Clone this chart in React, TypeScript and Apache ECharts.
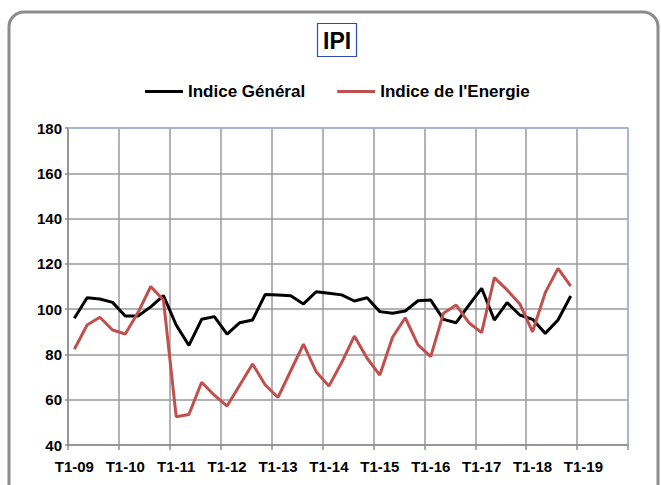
import React, { useEffect, useRef } from "react";
import * as echarts from "echarts";

const categories = [
  "T1-09", "T2-09", "T3-09", "T4-09",
  "T1-10", "T2-10", "T3-10", "T4-10",
  "T1-11", "T2-11", "T3-11", "T4-11",
  "T1-12", "T2-12", "T3-12", "T4-12",
  "T1-13", "T2-13", "T3-13", "T4-13",
  "T1-14", "T2-14", "T3-14", "T4-14",
  "T1-15", "T2-15", "T3-15", "T4-15",
  "T1-16", "T2-16", "T3-16", "T4-16",
  "T1-17", "T2-17", "T3-17", "T4-17",
  "T1-18", "T2-18", "T3-18", "T4-18",
  "T1-19", "T2-19", "T3-19", "T4-19",
];

const indiceGeneral = [
  96, 105, 104.5, 103, 97, 97, 101, 106,
  93, 84, 95.5, 96.7, 89, 94, 95.2, 106.5,
  106.2, 105.9, 102.3, 107.7, 107, 106.3, 103.6, 105,
  98.9, 98.2, 99.2, 103.7, 104, 95.5, 94, 101.8,
  109.2, 95.2, 102.9, 97.4, 95.5, 89.3, 95.2, 105.8,
];

const indiceEnergie = [
  82.3, 93, 96.4, 90.8, 89, 98.5, 110, 104,
  52.5, 53.5, 67.7, 62, 57.2, 66.5, 75.8, 66.5,
  61, 72.8, 84.5, 72.4, 66, 76.4, 88.1, 78.3,
  70.9, 87.6, 96.2, 84.2, 79, 98.2, 101.8, 94,
  89.6, 113.9, 108.5, 102.3, 90, 107.3, 118, 110.2,
];

const seriesNames = ["Indice Général", "Indice de l'Energie"];
const yTicks = { min: 40, max: 180, interval: 20 };

const FONT = "'Liberation Sans', Arial, sans-serif";

export default function App() {
  const ref = useRef<HTMLDivElement>(null);

  useEffect(() => {
    if (!ref.current) return;
    const chart = echarts.init(ref.current, undefined, { renderer: "svg" });
    const gridLeft = 68;
    const gridTop = 128;
    const gridRight = 628;
    const gridBottom = 445;
    chart.setOption({
      animation: false,
      backgroundColor: "#ffffff",
      title: {
        text: "IPI",
        left: 317,
        top: 23,
        padding: [6, 6, 5, 6],
        borderColor: "#2e49c4",
        borderWidth: 1.2,
        textStyle: {
          fontFamily: FONT,
          fontWeight: "bold",
          fontSize: 23,
          color: "#000",
        },
      },
      legend: {
        data: seriesNames,
        left: 145,
        top: 83,
        padding: 0,
        itemGap: 32,
        icon: "rect",
        itemWidth: 38,
        itemHeight: 3,
        textStyle: {
          fontFamily: FONT,
          fontWeight: "bold",
          fontSize: 17,
          color: "#000",
          lineHeight: 14,
        },
      },
      grid: {
        left: gridLeft,
        top: gridTop,
        right: 661 - gridRight,
        bottom: 485 - gridBottom,
        containLabel: false,
      },
      xAxis: {
        type: "category",
        data: categories,
        boundaryGap: true,
        axisLine: { show: true, lineStyle: { color: "#8c8c8c", width: 1.5 } },
        axisTick: {
          show: true,
          interval: 3,
          length: 5,
          lineStyle: { color: "#8c8c8c", width: 1.5 },
        },
        splitLine: {
          show: true,
          interval: 3,
          lineStyle: { color: "#9a9a9a", width: 1.5 },
        },
        axisLabel: {
          interval: 3,
          margin: 14,
          fontFamily: FONT,
          fontWeight: "bold",
          fontSize: 15,
          color: "#000",
        },
      },
      yAxis: {
        type: "value",
        min: yTicks.min,
        max: yTicks.max,
        interval: yTicks.interval,
        axisLine: { show: true, lineStyle: { color: "#8c8c8c", width: 1.5 } },
        axisTick: { show: true, length: 3, lineStyle: { color: "#8c8c8c", width: 1.5 } },
        splitLine: { show: true, lineStyle: { color: "#9a9a9a", width: 1.5 } },
        axisLabel: {
          margin: 6,
          fontFamily: FONT,
          fontWeight: "bold",
          fontSize: 15,
          color: "#000",
        },
      },
      series: [
        {
          name: seriesNames[0],
          type: "line",
          data: indiceGeneral,
          symbol: "none",
          lineStyle: { color: "#000000", width: 3 },
          itemStyle: { color: "#000000" },
        },
        {
          name: seriesNames[1],
          type: "line",
          data: indiceEnergie,
          symbol: "none",
          lineStyle: { color: "#c0504d", width: 3 },
          itemStyle: { color: "#c0504d" },
        },
      ],
      graphic: [
        {
          type: "rect",
          z: 100,
          shape: { x: 9, y: 12, width: 649, height: 490, r: 15 },
          style: { fill: "none", stroke: "#8c8c8c", lineWidth: 3 },
          silent: true,
        },
        {
          type: "polyline",
          z: 100,
          shape: {
            points: [
              [gridLeft, gridTop],
              [gridRight, gridTop],
              [gridRight, gridBottom],
            ],
          },
          style: { fill: "none", stroke: "#a4b8e0", lineWidth: 1.5 },
          silent: true,
        },
      ],
    });
    return () => chart.dispose();
  }, []);

  return (
    <div
      ref={ref}
      style={{ position: "fixed", left: 0, top: 0, width: 661, height: 485 }}
    />
  );
}
